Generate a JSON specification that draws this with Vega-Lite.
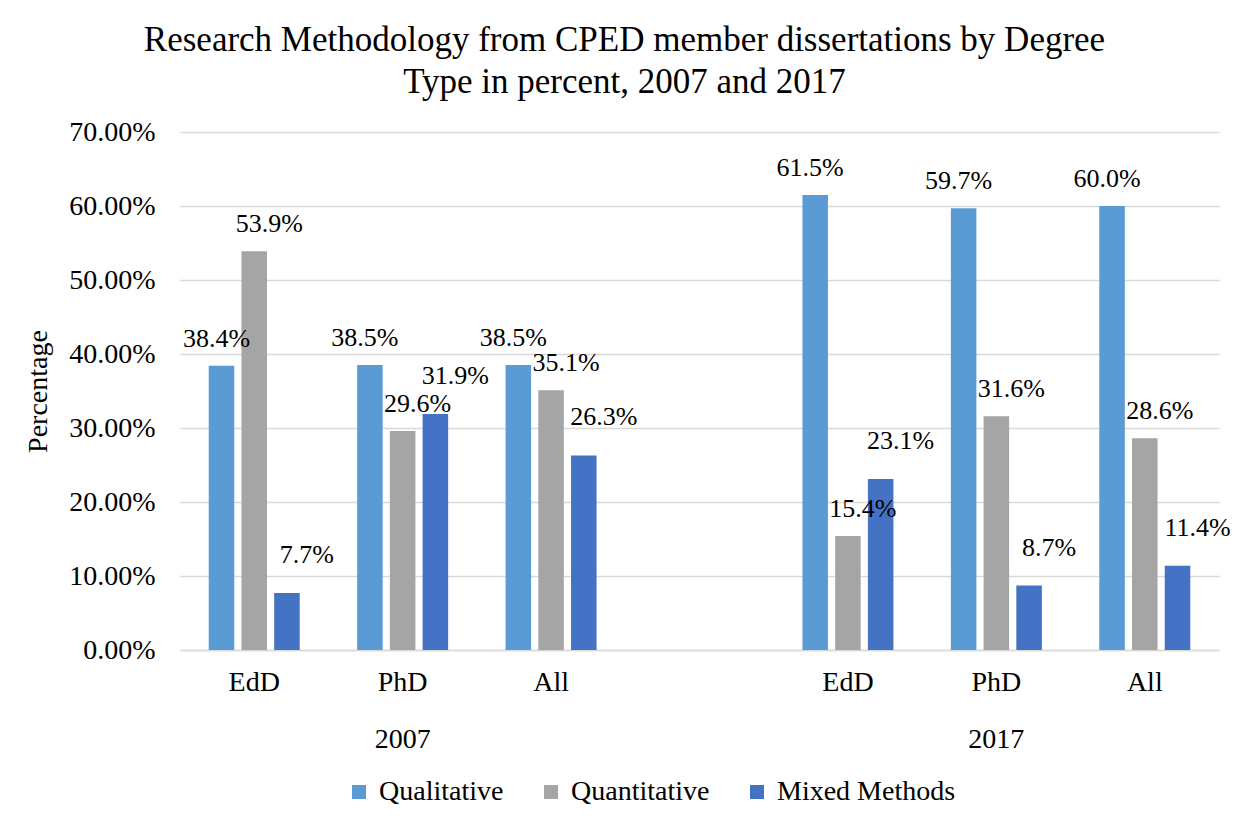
{
  "$schema": "https://vega.github.io/schema/vega-lite/v6.json",
  "width": 1039,
  "height": 518,
  "autosize": {"type": "none"},
  "padding": {"left": 180, "top": 132, "right": 28, "bottom": 182},
  "background": "white",
  "title": {
    "text": ["Research Methodology  from CPED member dissertations  by Degree", "Type in percent, 2007 and 2017"],
    "font": "Liberation Serif",
    "fontSize": 35,
    "fontWeight": "normal",
    "color": "#000000",
    "anchor": "middle",
    "frame": "group",
    "dx": -75,
    "offset": 18,
    "lineHeight": 42
  },
  "config": {
    "view": {"stroke": null},
    "font": "Liberation Serif",
    "text": {"font": "Liberation Serif"},
    "axis": {"labelFont": "Liberation Serif", "titleFont": "Liberation Serif"},
    "legend": {"labelFont": "Liberation Serif"}
  },
  "data": {
    "values": [
      {"cat": "2007 EdD", "method": "Qualitative", "value": 0.384},
      {"cat": "2007 EdD", "method": "Quantitative", "value": 0.539},
      {"cat": "2007 EdD", "method": "Mixed Methods", "value": 0.077},
      {"cat": "2007 PhD", "method": "Qualitative", "value": 0.385},
      {"cat": "2007 PhD", "method": "Quantitative", "value": 0.296},
      {"cat": "2007 PhD", "method": "Mixed Methods", "value": 0.319},
      {"cat": "2007 All", "method": "Qualitative", "value": 0.385},
      {"cat": "2007 All", "method": "Quantitative", "value": 0.351},
      {"cat": "2007 All", "method": "Mixed Methods", "value": 0.263},
      {"cat": "2017 EdD", "method": "Qualitative", "value": 0.615},
      {"cat": "2017 EdD", "method": "Quantitative", "value": 0.154},
      {"cat": "2017 EdD", "method": "Mixed Methods", "value": 0.231},
      {"cat": "2017 PhD", "method": "Qualitative", "value": 0.597},
      {"cat": "2017 PhD", "method": "Quantitative", "value": 0.316},
      {"cat": "2017 PhD", "method": "Mixed Methods", "value": 0.087},
      {"cat": "2017 All", "method": "Qualitative", "value": 0.600},
      {"cat": "2017 All", "method": "Quantitative", "value": 0.286},
      {"cat": "2017 All", "method": "Mixed Methods", "value": 0.114}
    ]
  },
  "encoding": {
    "x": {
      "field": "cat",
      "type": "nominal",
      "title": null,
      "scale": {
        "domain": ["2007 EdD", "2007 PhD", "2007 All", "gap", "2017 EdD", "2017 PhD", "2017 All"],
        "paddingInner": 0.387,
        "paddingOuter": 0.1935
      },
      "axis": {
        "labelExpr": "datum.value == '2007 PhD' ? ['PhD', '2007'] : datum.value == '2017 PhD' ? ['PhD', '2017'] : datum.value == 'gap' ? '' : split(datum.value, ' ')[1]",
        "labelAngle": 0,
        "labelFont": "Liberation Serif",
        "labelFontSize": 28,
        "labelLineHeight": 57,
        "labelPadding": 18,
        "labelColor": "#000000",
        "labelOverlap": false,
        "labelBound": false,
        "ticks": false,
        "grid": false,
        "domainColor": "#D9D9D9",
        "domainWidth": 1.5
      }
    },
    "xOffset": {
      "field": "method",
      "type": "nominal",
      "scale": {
        "domain": ["Qualitative", "Quantitative", "Mixed Methods"],
        "paddingInner": 0.22,
        "paddingOuter": 0
      }
    },
    "y": {
      "field": "value",
      "type": "quantitative",
      "title": "Percentage",
      "scale": {"domain": [0, 0.7]},
      "axis": {
        "values": [0, 0.1, 0.2, 0.3, 0.4, 0.5, 0.6, 0.7],
        "format": ".2%",
        "domain": false,
        "ticks": false,
        "gridColor": "#D9D9D9",
        "gridWidth": 1.5,
        "labelFont": "Liberation Serif",
        "labelFontSize": 28,
        "labelColor": "#000000",
        "labelPadding": 25,
        "titleFont": "Liberation Serif",
        "titleFontSize": 28,
        "titleFontWeight": "normal",
        "titleColor": "#000000",
        "titlePadding": 16
      }
    }
  },
  "layer": [
    {
      "mark": {"type": "bar"},
      "encoding": {
        "color": {
          "field": "method",
          "type": "nominal",
          "scale": {
            "domain": ["Qualitative", "Quantitative", "Mixed Methods"],
            "range": ["#5B9BD5", "#A5A5A5", "#4472C4"]
          },
          "legend": {
            "title": null,
            "orient": "none",
            "legendX": 165,
            "legendY": 646,
            "direction": "horizontal",
            "symbolType": "square",
            "symbolSize": 196,
            "symbolStrokeWidth": 0,
            "labelFont": "Liberation Serif",
            "labelFontSize": 28,
            "labelColor": "#000000",
            "labelOffset": 6,
            "labelLimit": 400,
            "columnPadding": 33
          }
        }
      }
    },
    {
      "transform": [{"filter": "datum.method == 'Qualitative'"}],
      "mark": {"type": "text", "dx": -5, "dy": -27, "baseline": "middle", "font": "Liberation Serif", "fontSize": 26, "color": "#000000"},
      "encoding": {"text": {"field": "value", "type": "quantitative", "format": ".1%"}}
    },
    {
      "transform": [{"filter": "datum.method == 'Quantitative'"}],
      "mark": {"type": "text", "dx": 15, "dy": -27, "baseline": "middle", "font": "Liberation Serif", "fontSize": 26, "color": "#000000"},
      "encoding": {"text": {"field": "value", "type": "quantitative", "format": ".1%"}}
    },
    {
      "transform": [{"filter": "datum.method == 'Mixed Methods'"}],
      "mark": {"type": "text", "dx": 20, "dy": -38, "baseline": "middle", "font": "Liberation Serif", "fontSize": 26, "color": "#000000"},
      "encoding": {"text": {"field": "value", "type": "quantitative", "format": ".1%"}}
    }
  ]
}
